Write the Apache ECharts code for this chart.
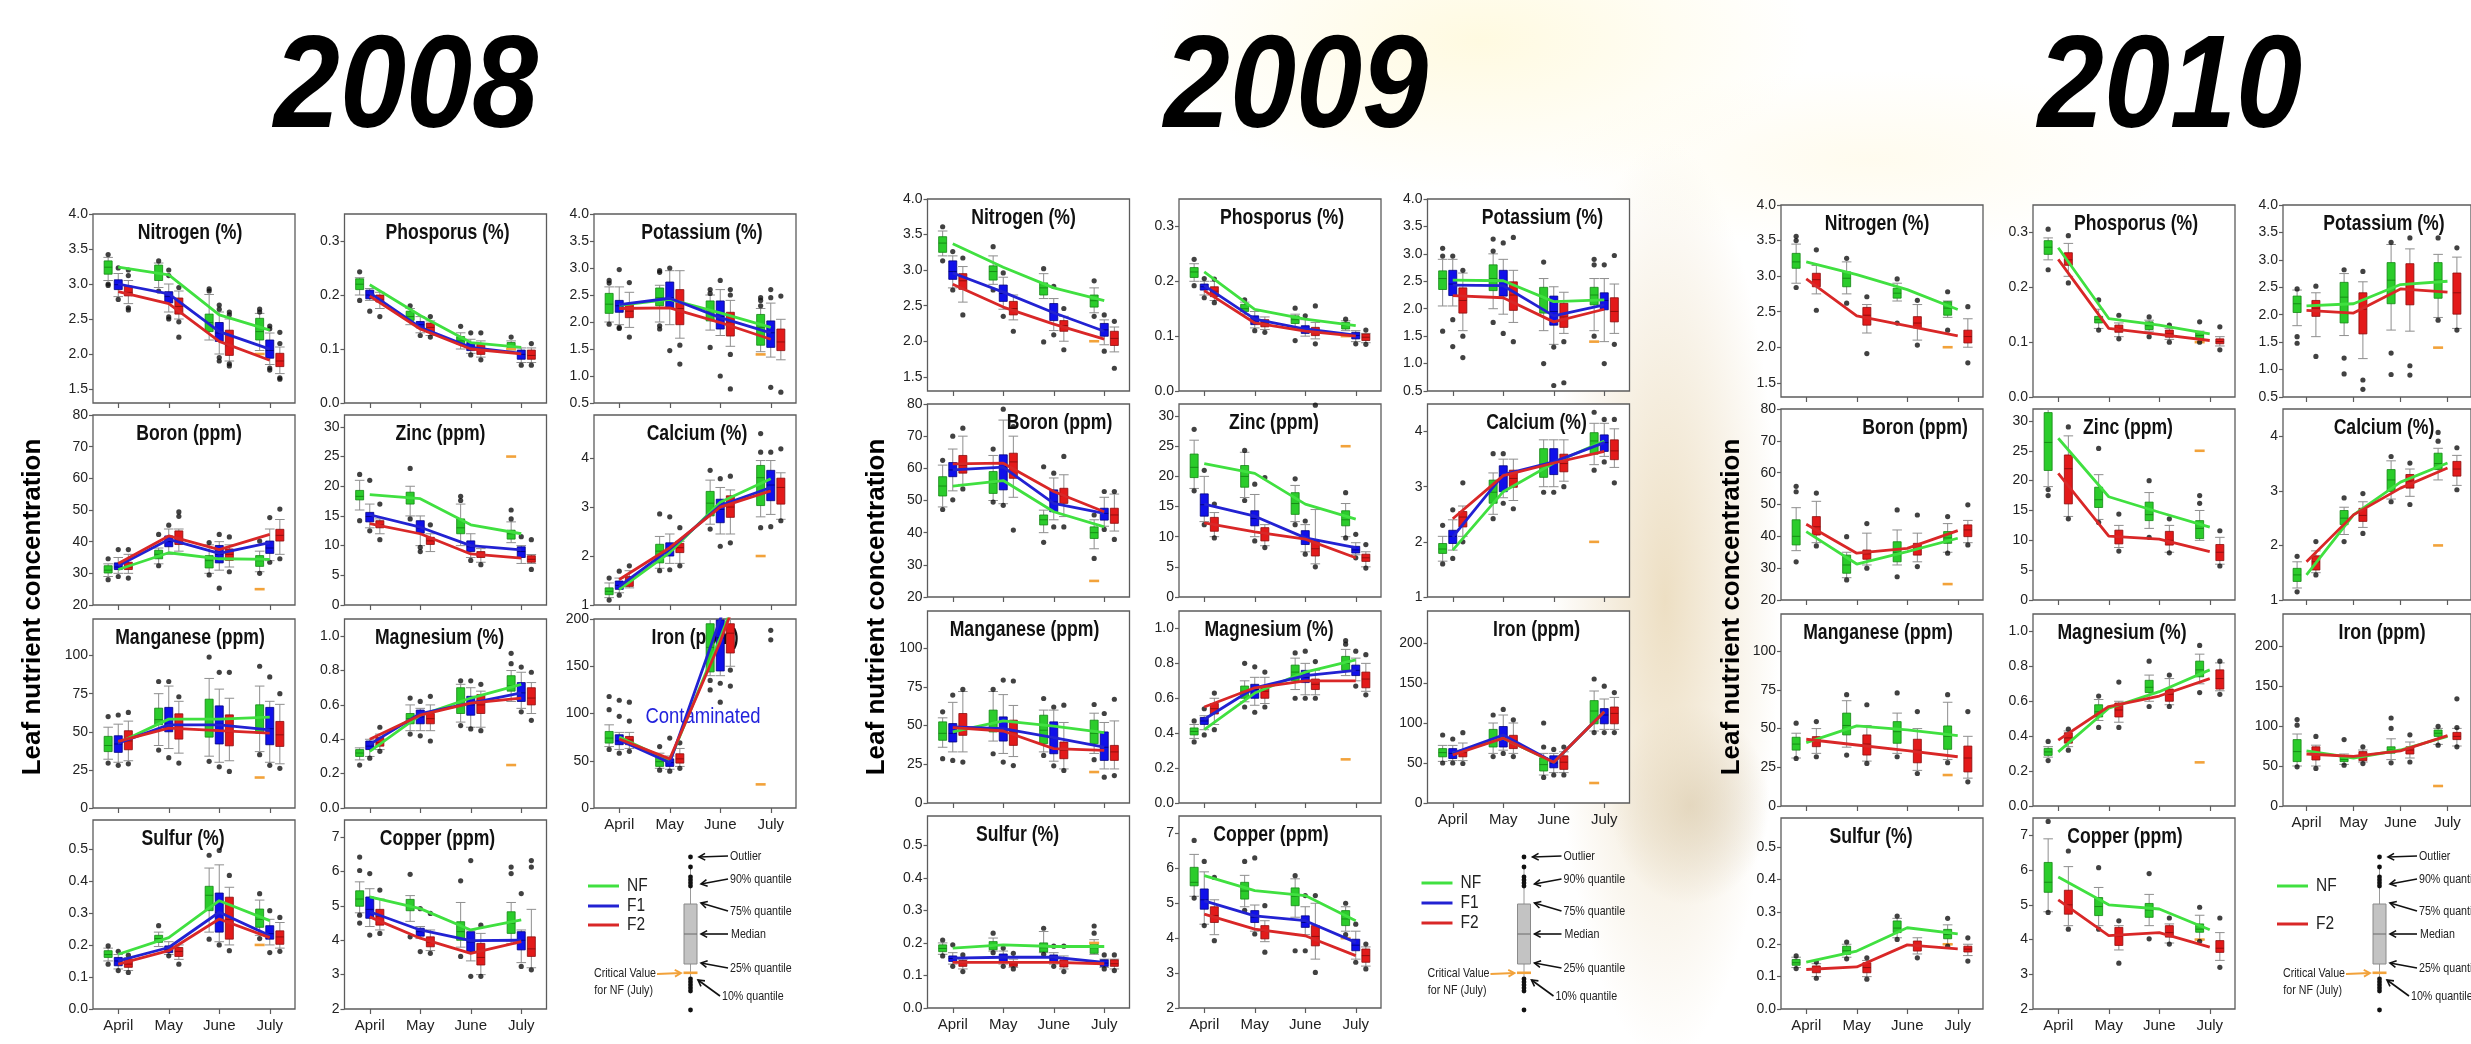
<!DOCTYPE html>
<html>
<head>
<meta charset="utf-8">
<script src="https://cdn.jsdelivr.net/npm/echarts@6/dist/echarts.min.js"></script>
<style>
  html, body { margin: 0; padding: 0; width: 2471px; height: 1044px; overflow: hidden; }
  body {
    background:
      radial-gradient(ellipse 330px 150px at 1480px 40px, rgba(255,246,200,0.55), rgba(255,246,200,0) 100%),
      radial-gradient(ellipse 320px 90px at 1870px 160px, rgba(255,248,222,0.5), rgba(255,248,222,0) 100%),
      radial-gradient(ellipse 115px 460px at 1665px 600px, rgba(236,221,192,0.95), rgba(236,221,192,0) 100%),
      radial-gradient(ellipse 80px 100px at 1690px 805px, rgba(198,180,146,0.6), rgba(198,180,146,0) 100%),
      #ffffff;
  }
  #chart { position: absolute; left: 0; top: 0; width: 2471px; height: 1044px; }
</style>
</head>
<body>
<div id="chart"></div>
<script>
// ---------- labels and axes ----------
const months = ['April', 'May', 'June', 'July'];
const treatmentNames = ['NF', 'F1', 'F2'];
const nutrientTitles = ['Nitrogen (%)', 'Phosporus (%)', 'Potassium (%)', 'Boron (ppm)', 'Zinc (ppm)', 'Calcium (%)',
  'Manganese (ppm)', 'Magnesium (%)', 'Iron (ppm)', 'Sulfur (%)', 'Copper (ppm)'];
const yTicks = [
  [1.5, 2.0, 2.5, 3.0, 3.5, 4.0],
  [0, 0.1, 0.2, 0.3],
  [0.5, 1.0, 1.5, 2.0, 2.5, 3.0, 3.5, 4.0],
  [20, 30, 40, 50, 60, 70, 80],
  [0, 5, 10, 15, 20, 25, 30],
  [1, 2, 3, 4],
  [0, 25, 50, 75, 100],
  [0, 0.2, 0.4, 0.6, 0.8, 1.0],
  [0, 50, 100, 150, 200],
  [0, 0.1, 0.2, 0.3, 0.4, 0.5],
  [2, 3, 4, 5, 6, 7]
];
const yDecimals = [1, 1, 1, 0, 0, 0, 0, 1, 0, 1, 0];
const yRange2008 = [[1.3, 4.0], [0, 0.35], [0.5, 4.0], [20, 80], [0, 32], [1, 4.88], [0, 124], [0, 1.1], [0, 200], [0, 0.59], [2, 7.5]];
const yRange2009 = [[1.3, 4.0], [0, 0.35], [0.5, 4.0], [20, 80], [0, 32], [1, 4.5], [0, 124], [0, 1.1], [0, 240], [0, 0.59], [2, 7.5]];
const yRange2010 = yRange2009;
// critical value for NF in July, one per nutrient
const criticalNF = [2.0, 0.1, 1.4, 25, 25, 2.0, 20, 0.25, 25, 0.2, 4.0];

// ---------- 2008 ----------
// per treatment, per month: [p10, p25, median, p75, p90, ...outliers]
const nitrogen2008 = [
  [[3.05,3.14,3.24,3.33,3.38, 3.42,3.0,2.98],[2.95,3.05,3.15,3.27,3.3, 3.33,2.9],[2.2,2.32,2.45,2.57,2.85, 2.93,2.9],[2.05,2.2,2.32,2.51,2.58, 2.64,2.6]],
  [[2.82,2.92,2.99,3.06,3.15, 3.23,2.78],[2.6,2.73,2.82,2.89,3.0, 3.2,3.12,2.53,2.5],[2.0,2.18,2.3,2.45,2.6, 2.7,2.64,1.95,1.9],[1.85,1.94,2.05,2.2,2.3, 2.4,2.36,1.8,1.77]],
  [[2.72,2.83,2.88,2.97,3.05, 3.2,3.12,2.66,2.63],[2.5,2.57,2.68,2.8,2.9, 2.95,2.46,2.24],[1.9,1.98,2.12,2.34,2.5, 2.6,2.56,1.86,1.83],[1.72,1.82,1.9,2.01,2.1, 2.31,2.15,1.66,1.64]]
];
const nitrogen2008Mean = [[3.24,3.13,2.56,2.34],[3.0,2.86,2.32,2.07],[2.89,2.72,2.18,1.91]];
const phosphorus2008 = [
  [[0.2,0.21,0.22,0.23,0.232, 0.243,0.19],[0.145,0.153,0.16,0.17,0.175, 0.18],[0.1,0.109,0.115,0.123,0.13, 0.142],[0.098,0.1,0.105,0.112,0.115, 0.122]],
  [[0.19,0.193,0.2,0.209,0.212, 0.17],[0.13,0.139,0.145,0.151,0.16, 0.125],[0.092,0.097,0.104,0.112,0.118, 0.13,0.089],[0.075,0.081,0.09,0.098,0.102, 0.07]],
  [[0.175,0.187,0.192,0.2,0.205, 0.16],[0.125,0.131,0.14,0.148,0.152, 0.16,0.122],[0.085,0.09,0.1,0.109,0.115, 0.13,0.08],[0.075,0.081,0.088,0.098,0.102, 0.11,0.07]]
];
const phosphorus2008Mean = [[0.219,0.162,0.112,0.103],[0.204,0.14,0.103,0.092],[0.198,0.137,0.1,0.091]];
const potassium2008 = [
  [[2.0,2.16,2.33,2.53,2.65, 2.77,2.72,1.96],[2.0,2.3,2.45,2.63,2.68, 2.95,2.92,1.93,1.87],[1.85,2.02,2.2,2.39,2.5, 2.6,2.53,1.53],[1.45,1.57,1.9,2.14,2.25, 2.45,2.4,2.3]],
  [[1.95,2.18,2.3,2.4,2.65, 2.97,1.9,1.88],[1.95,2.26,2.45,2.74,2.95, 3.0,1.47],[1.75,1.87,2.1,2.39,2.6, 2.77,1.0],[1.35,1.53,1.8,2.02,2.35, 2.6,2.45,0.79]],
  [[1.9,2.08,2.2,2.33,2.55, 2.73,1.72],[1.7,1.95,2.25,2.6,2.95, 1.57,1.22],[1.55,1.74,2.0,2.18,2.4, 2.6,2.5,1.4,0.76],[1.3,1.47,1.63,1.87,2.05, 2.48,0.7]]
];
const potassium2008Mean = [[2.31,2.42,2.17,1.9],[2.32,2.44,2.08,1.8],[2.25,2.26,1.99,1.68]];
const boron2008 = [
  [[29,30.1,31,32.4,33, 34.6,28],[33,34.6,36,37.3,38, 42.3,32.4],[30,31.7,34,35.6,39, 39.7,29.5],[30.5,32.2,34,35.6,37, 40.2,30]],
  [[30,31.2,32,33.3,35, 37.5,29],[36,38.4,40,41.8,44, 45.2],[31,33.3,36,38.8,40, 42.3,25.3],[34,36.3,38,40.2,44, 47.6,33.5]],
  [[30,31.2,32,33.5,36, 37.5,28.5],[37,39.1,41,43.4,44, 49.4,48],[32,34.1,36,37.7,39, 41.5,30.5],[36,40.2,42,43.9,47, 50.3,34.6]]
];
const boron2008Mean = [[31.2,36.5,34.6,34.4],[32.4,40.7,36.3,39.7],[33.1,41.8,37.5,42.3]];
const zinc2008 = [
  [[16,17.7,18.3,19.3,21, 22,14.2],[15,17,18,19,20, 23,14.5],[10,12,13,14.5,17, 18.3,17.6],[10.5,11.1,12,12.6,14, 16,14.5]],
  [[13,14,14.9,15.6,17, 21,12.5],[10,12.1,13,14.2,15, 9.7,9],[8,9,9.8,10.8,12, 7.5],[7,8,9,9.8,10, 11.5]],
  [[12,13,13.5,14.2,14.5, 17,11],[9,10.2,10.8,11.4,12, 13.5],[7.2,8,8.5,9,9.5, 6.8],[7,7.2,7.7,8.3,8.5, 11,6]]
];
const zinc2008Mean = [[18.6,17.9,13.5,12.0],[15.2,13.1,10.0,9.3],[13.7,12.0,8.6,7.9]];
const calcium2008 = [
  [[1.15,1.21,1.28,1.35,1.45, 1.55,1.1],[1.75,1.86,2.1,2.24,2.4, 2.86,1.7],[2.65,2.82,3.08,3.32,3.55, 3.75,2.55],[2.8,3.03,3.6,3.85,3.95, 4.5,4.12,2.58]],
  [[1.25,1.32,1.4,1.49,1.55, 1.69,1.2],[1.85,2.0,2.15,2.27,2.45, 2.8,1.72],[2.45,2.68,2.95,3.16,3.4, 3.58,2.2],[2.85,3.13,3.45,3.75,3.95, 4.12,2.6]],
  [[1.35,1.38,1.5,1.58,1.7, 1.8],[1.85,2.07,2.17,2.26,2.3, 2.58,1.8],[2.45,2.79,3.0,3.23,3.35, 3.63,2.27],[2.75,3.06,3.4,3.59,3.7, 4.19,2.72]]
];
const calcium2008Mean = [[1.32,2.07,3.1,3.58],[1.38,2.14,3.03,3.4],[1.52,2.17,3.0,3.33]];
const manganese2008 = [
  [[32,37,41,47,53, 60,29.5],[41,54.6,58,65.5,75, 83,38],[34,46.5,58,71.4,85, 99,30.6],[37,49.1,59,67.7,80, 93,35]],
  [[30,36.5,42,47.4,55, 61,28],[39,50,55,66,80, 83,33],[30,42,55,67,78, 89,27],[30,41.5,52,66,70, 86,28]],
  [[31,38.2,44,50.7,57, 62.7,29],[36,45.2,52,61.8,70, 73,29.5],[31,40.8,50,61.1,72, 89,24],[29,40.4,48,56.8,68, 75,26]]
];
const manganese2008Mean = [[42.6,58.3,58.3,59.6],[42.6,54.6,54.6,51.3],[43.7,52.4,50.7,49.1]];
const magnesium2008 = [
  [[0.28,0.3,0.32,0.34,0.35, 0.25],[0.45,0.49,0.52,0.55,0.6, 0.64,0.43],[0.5,0.55,0.62,0.7,0.72, 0.74,0.48],[0.62,0.68,0.71,0.77,0.8, 0.9,0.84]],
  [[0.3,0.34,0.36,0.39,0.4, 0.29],[0.45,0.49,0.53,0.57,0.58, 0.62,0.42],[0.47,0.54,0.6,0.65,0.7, 0.74,0.46],[0.58,0.62,0.67,0.73,0.79, 0.82,0.56]],
  [[0.34,0.36,0.38,0.41,0.43, 0.47,0.33],[0.45,0.49,0.52,0.55,0.6, 0.65,0.39],[0.47,0.55,0.6,0.66,0.68, 0.72,0.45],[0.55,0.6,0.64,0.7,0.73, 0.79,0.51]]
];
const magnesium2008Mean = [[0.33,0.54,0.64,0.72],[0.37,0.55,0.61,0.67],[0.4,0.54,0.61,0.64]];
const iron2008 = [
  [[65,68.7,74,81,88, 118,104,62],[42,44,49,55.3,58, 65,40],[140,144,170,195,215, 135,125],[220,260,300,340,380]],
  [[62,67,71,77.5,80, 114,97,58],[41,44,48,52,55, 74,39],[140,145,180,199,215, 132,112],[230,270,310,350,390, 188,178]],
  [[63,67,72,75.7,80, 112,92,60],[44,47.5,52,57.4,63, 69,42],[150,164,185,195,215, 146,129],[225,265,305,345,385]]
];
const iron2008Mean = [[75,50,180,320],[72,48,200,330],[73,52,176,320]];
const sulfur2008 = [
  [[0.15,0.161,0.17,0.182,0.19, 0.197,0.14],[0.195,0.208,0.22,0.23,0.24, 0.26],[0.24,0.307,0.355,0.383,0.44, 0.48,0.218],[0.23,0.255,0.28,0.312,0.34, 0.36,0.22]],
  [[0.125,0.135,0.15,0.161,0.17, 0.18,0.12],[0.17,0.176,0.185,0.197,0.21, 0.166],[0.21,0.24,0.3,0.362,0.45, 0.495,0.2],[0.2,0.218,0.235,0.26,0.28, 0.307,0.176]],
  [[0.12,0.13,0.14,0.156,0.16, 0.168,0.114],[0.155,0.164,0.18,0.192,0.2, 0.14],[0.2,0.218,0.28,0.349,0.38, 0.417,0.182],[0.19,0.202,0.225,0.244,0.27, 0.286,0.18]]
];
const sulfur2008Mean = [[0.171,0.223,0.338,0.276],[0.15,0.192,0.302,0.229],[0.14,0.182,0.281,0.223]];
const copper2008 = [
  [[4.8,4.99,5.2,5.44,5.7, 6.42,6.03,4.73,4.5],[4.55,4.86,5.0,5.19,5.3, 5.92,4.1],[3.8,4.0,4.25,4.54,5.1, 5.73,3.53],[3.9,4.2,4.5,4.83,5.1, 6.13,5.94]],
  [[4.4,4.64,4.9,5.26,5.5, 5.94,4.15],[4.05,4.12,4.25,4.35,4.4, 4.92,3.67],[3.4,3.67,3.95,4.25,4.3, 6.32,2.95],[3.35,3.72,4.0,4.25,4.3, 5.36,3.24]],
  [[4.3,4.44,4.7,4.9,5.2, 5.46,4.2],[3.7,3.81,3.95,4.1,4.3, 4.78,3.62],[3.0,3.28,3.5,3.91,4.2, 4.44,2.95],[3.2,3.53,3.75,4.1,4.9, 6.32,6.13,3.14]]
];
const copper2008Mean = [[5.26,4.92,4.3,4.59],[4.83,4.3,3.99,4.0],[4.68,4.06,3.62,3.96]];

// ---------- 2009 ----------
const nitrogen2009 = [
  [[3.2,3.25,3.38,3.47,3.55, 3.61,3.13],[2.8,2.86,2.98,3.06,3.2, 3.33,2.72],[2.6,2.65,2.75,2.82,2.95, 3.02,1.99],[2.4,2.48,2.57,2.65,2.75, 2.85,2.35]],
  [[2.75,2.87,2.98,3.13,3.2, 3.26,2.72],[2.45,2.56,2.67,2.79,2.9, 2.96,2.35],[2.15,2.29,2.4,2.53,2.6, 2.77,2.09],[1.95,2.07,2.16,2.25,2.3, 2.37,1.86]],
  [[2.55,2.73,2.85,2.95,3.05, 3.17,2.37],[2.3,2.37,2.46,2.56,2.65, 2.14],[2.0,2.14,2.22,2.29,2.35, 2.46,1.88],[1.85,1.94,2.04,2.14,2.2, 2.28,1.62]]
];
const nitrogen2009Mean = [[3.37,3.04,2.75,2.57],[2.96,2.69,2.4,2.14],[2.8,2.48,2.24,2.03]];
const phosphorus2009 = [
  [[0.2,0.207,0.217,0.225,0.232, 0.24,0.192],[0.14,0.145,0.15,0.158,0.162, 0.166],[0.115,0.123,0.13,0.137,0.14, 0.151,0.092],[0.11,0.113,0.12,0.125,0.128, 0.131]],
  [[0.175,0.184,0.19,0.195,0.2, 0.17,0.205],[0.115,0.121,0.128,0.137,0.145, 0.11],[0.1,0.105,0.112,0.119,0.13, 0.137],[0.09,0.095,0.101,0.107,0.11, 0.086]],
  [[0.165,0.172,0.182,0.19,0.2, 0.204,0.161],[0.112,0.117,0.124,0.13,0.135, 0.107],[0.095,0.101,0.108,0.116,0.125, 0.155,0.086],[0.088,0.092,0.098,0.104,0.105, 0.111,0.085]]
];
const phosphorus2009Mean = [[0.217,0.149,0.131,0.119],[0.192,0.131,0.113,0.102],[0.183,0.124,0.109,0.1]];
const potassium2009 = [
  [[2.05,2.35,2.55,2.69,2.9, 3.1,2.96,1.59],[2.0,2.33,2.55,2.8,3.0, 3.27,3.05,1.75],[1.6,1.92,2.2,2.39,2.55, 2.85,1.0],[1.6,2.07,2.25,2.39,2.55, 2.9,2.8,1.5]],
  [[2.05,2.24,2.45,2.7,2.9, 2.96,1.8,1.31],[1.9,2.23,2.5,2.7,2.9, 3.2,1.55],[1.35,1.7,1.95,2.23,2.4, 1.3,0.6],[1.4,1.98,2.15,2.29,2.55, 2.8,1.0]],
  [[1.6,1.92,2.15,2.38,2.65, 2.7,1.5,1.11],[1.75,1.97,2.25,2.49,2.7, 3.3,1.4],[1.55,1.66,1.85,2.1,2.3, 1.4,0.65],[1.55,1.76,1.95,2.2,2.45, 2.97,1.35]]
];
const potassium2009Mean = [[2.52,2.51,2.13,2.16],[2.43,2.42,1.87,2.07],[2.24,2.2,1.76,1.99]];
const boron2009 = [
  [[48,51.4,54.5,57.4,61, 62.5,47.2],[50,52.2,55.5,59,64, 66,49.5],[40,42.4,44,45.5,47, 60.5,37],[35,38.2,40,41.8,44, 45.5,32]],
  [[53,57.4,59.5,61.8,66, 70,50.2],[49,53.3,60.5,64.2,75, 78.4,48.5],[44,46.5,49.5,53.3,57, 58.5,41.8],[42,43.9,46,47.6,51, 52.8,41]],
  [[55,58.5,61,64,70, 72.5,53.6],[51,56.9,62,64.7,70, 73,40.8],[45,49.1,51.5,53.8,58, 63.7,41.8],[40.5,42.9,45.5,47.6,52, 52.8,37.9]]
];
const boron2009Mean = [[54.5,56.2,46.5,41.8],[59.5,60.4,49.1,46],[61.4,61.6,52.8,46.5]];
const zinc2009 = [
  [[18,19.8,21.5,23.7,26, 27.8,17.6],[16.5,18.2,20,21.8,24, 24.3,16],[12.5,13.7,15.5,17.3,18.5, 19.6,12],[10,11.8,12.8,14.3,15.5, 17.3,9.8]],
  [[12.5,13.4,15.3,17.1,20, 21,12],[10,11.8,13,14.3,17, 18.7,9.3],[7.5,8.7,9.8,11,12, 12.6,7.1],[7,7.3,7.8,8.4,9, 10.4,6.5]],
  [[10,10.9,12,13.2,14, 15.4,9.8],[8.5,9.3,10.5,11.5,12, 19.8,8.2],[5.5,6.8,8,9.3,14.5, 31.8,5.0],[5,5.9,6.5,7.1,7.5, 8.7,4.8]]
];
const zinc2009Mean = [[22.1,20.5,15.4,12.9],[15.4,13.4,9.8,8.2],[12.3,10.8,9.6,6.5]];
const calcium2009 = [
  [[1.65,1.79,1.87,1.97,2.1, 2.3,1.6],[2.5,2.7,2.9,3.12,3.25, 3.6,2.42],[3.0,3.17,3.4,3.69,3.85, 2.9],[3.4,3.59,3.83,3.98,4.15, 4.35,3.3]],
  [[1.85,1.97,2.1,2.21,2.4, 2.58,1.7],[2.8,2.91,3.2,3.38,3.5, 3.6,2.7],[3.0,3.22,3.45,3.69,3.85, 2.9],[3.55,3.64,3.8,3.94,4.15, 4.22,3.45]],
  [[2.1,2.27,2.45,2.55,2.65, 3.07,2.0],[2.75,2.99,3.15,3.3,3.5, 2.6],[3.1,3.27,3.42,3.59,3.85, 3.0],[3.35,3.49,3.65,3.85,4.05, 4.22,3.07]]
];
const calcium2009Mean = [[1.85,2.91,3.43,3.83],[2.09,3.22,3.45,3.8],[2.42,3.2,3.43,3.64]];
const manganese2009 = [
  [[36,40.5,45,52.4,55, 58.9,28.6],[40,45.9,52,60,72, 73.4,31.8],[33,38.3,47,56.7,60, 67.5,30.7],[32,38.3,45,53.5,58, 63.6,28]],
  [[33,39.4,45,51.3,65, 69.7,27.5],[32,40,48,55.6,70, 79.4,26.4],[27,31.8,42,52.4,60, 62,24],[22,27.5,36,45.9,52, 57.8,16.7]],
  [[33,43.7,49,57.8,72, 73.4,26.4],[30,37.2,46,53.5,63, 78.8,24.2],[22,28.6,34,39.4,52, 63.2,21],[22,27.5,33,37.2,53, 67,17.7]]
];
const manganese2009Mean = [[45.9,53,49.6,45.5],[49.1,48,42.2,36.1],[48.7,46.5,35.1,34]];
const magnesium2009 = [
  [[0.37,0.39,0.41,0.43,0.45, 0.47,0.35],[0.58,0.6,0.64,0.67,0.7, 0.8,0.55],[0.65,0.7,0.75,0.79,0.83, 0.86,0.6],[0.73,0.76,0.8,0.84,0.88, 0.93,0.91]],
  [[0.42,0.45,0.47,0.49,0.5, 0.54,0.39],[0.56,0.6,0.65,0.68,0.72, 0.78,0.52],[0.62,0.69,0.72,0.76,0.8, 0.87,0.6],[0.7,0.73,0.76,0.79,0.83, 0.87,0.67]],
  [[0.45,0.51,0.54,0.57,0.6, 0.63,0.42],[0.57,0.6,0.64,0.67,0.72, 0.75,0.55],[0.62,0.65,0.68,0.71,0.76, 0.81,0.6],[0.64,0.66,0.71,0.75,0.8, 0.85,0.62]]
];
const magnesium2009Mean = [[0.42,0.63,0.75,0.82],[0.48,0.66,0.73,0.76],[0.55,0.66,0.7,0.7]];
const iron2009 = [
  [[52,57.7,63,68,72, 85,50],[62,70,80,92,100, 110,58],[35,40,48,56.6,62, 100,70,32],[90,99,115,128,140, 155,88]],
  [[53,55.6,62,68,72, 80,50],[66,70,82,95.6,110, 117,62],[38,44,50,59,62, 67,35],[92,99,110,118,130, 146,88]],
  [[53,57.7,63,66,75, 87.9,49.4],[62,68,78,84.6,100, 104,58],[38,42,51,59,64, 70,35],[92,99,112,120,132, 138,88]]
];
const iron2009Mean = [[62,81,51,114],[62,85,51,114],[60,81,51,114]];
const sulfur2009 = [
  [[0.165,0.173,0.183,0.194,0.2, 0.209,0.16],[0.175,0.179,0.19,0.204,0.215, 0.23,0.17],[0.17,0.172,0.185,0.2,0.235, 0.245,0.165],[0.165,0.168,0.185,0.2,0.21, 0.252,0.23]],
  [[0.135,0.143,0.152,0.16,0.17, 0.194,0.128],[0.135,0.143,0.155,0.166,0.175, 0.184,0.128],[0.135,0.143,0.153,0.163,0.17, 0.19,0.128],[0.125,0.128,0.138,0.148,0.15, 0.163,0.12]],
  [[0.12,0.128,0.138,0.146,0.15, 0.163,0.112],[0.125,0.128,0.136,0.143,0.15, 0.168,0.12],[0.12,0.126,0.137,0.148,0.16, 0.19,0.112],[0.12,0.128,0.136,0.148,0.15, 0.163,0.115]]
];
const sulfur2009Mean = [[0.184,0.194,0.189,0.189],[0.153,0.156,0.156,0.14],[0.14,0.14,0.14,0.136]];
const copper2009 = [
  [[5.2,5.5,5.6,6.03,6.4, 6.8,5.15],[4.9,5.12,5.35,5.6,5.8, 6.2,4.8],[4.6,4.93,5.2,5.44,5.7, 5.79,3.64],[4.2,4.36,4.55,4.79,4.9, 5.0,4.1]],
  [[4.4,4.83,5.1,5.41,5.9, 6.2,4.36],[4.2,4.45,4.6,4.79,4.95, 6.3,4.12],[4.1,4.31,4.45,4.64,4.9, 5.22,3.64],[3.4,3.64,3.8,3.97,4.2, 4.4,3.31]],
  [[4.1,4.45,4.65,4.9,5.1, 5.74,3.93],[3.9,3.98,4.2,4.36,4.5, 4.93,3.6],[3.4,3.78,4.05,4.36,5.0, 5.22,3.02],[3.2,3.31,3.5,3.69,3.75, 3.83,3.12]]
];
const copper2009Mean = [[5.79,5.36,5.22,4.5],[5.07,4.64,4.5,3.88],[4.69,4.26,4.07,3.5]];

// ---------- 2010 (NF and F2 only) ----------
const nitrogen2010 = [
  [[2.9,3.11,3.2,3.32,3.45, 3.56,3.5,2.84],[2.75,2.85,2.97,3.06,3.2, 3.25,2.62],[2.65,2.69,2.76,2.83,2.9, 2.96,2.34],[2.42,2.45,2.55,2.64,2.65, 2.78,2.24]],
  [[2.75,2.85,2.95,3.04,3.15, 3.37,2.52],[2.2,2.31,2.45,2.56,2.6, 2.71,1.91],[2.1,2.27,2.34,2.43,2.6, 2.66,2.03],[2.0,2.06,2.15,2.24,2.4, 2.57,1.78]]
];
const nitrogen2010Mean = [[3.2,3.02,2.81,2.53],[2.96,2.44,2.3,2.16]];
const phosphorus2010 = [
  [[0.25,0.26,0.273,0.285,0.29, 0.306,0.232],[0.125,0.135,0.141,0.147,0.16, 0.177,0.122],[0.12,0.123,0.13,0.137,0.14, 0.146,0.11],[0.105,0.106,0.112,0.118,0.12, 0.137,0.1]],
  [[0.22,0.24,0.25,0.263,0.28, 0.294,0.208],[0.11,0.118,0.125,0.131,0.135, 0.149,0.106],[0.105,0.109,0.115,0.122,0.125, 0.131,0.1],[0.093,0.097,0.101,0.106,0.11, 0.128,0.086]]
];
const phosphorus2010Mean = [[0.272,0.143,0.131,0.115],[0.251,0.125,0.114,0.103]];
const potassium2010 = [
  [[1.8,2.04,2.2,2.34,2.45, 2.47,1.6,1.48],[1.62,1.85,2.32,2.59,2.75, 2.82,1.21,0.92],[1.72,2.2,2.63,2.95,3.28, 3.32,1.3,0.91],[1.95,2.3,2.63,2.95,3.1, 3.4,1.9]],
  [[1.6,1.97,2.12,2.26,2.4, 2.52,1.24],[1.2,1.65,2.1,2.4,2.6, 2.79,0.81,0.64],[1.7,2.18,2.55,2.93,3.2, 3.4,1.07,0.9],[1.75,2.01,2.4,2.76,3.05, 3.22,1.72]]
];
const potassium2010Mean = [[2.16,2.2,2.55,2.61],[2.08,2.03,2.47,2.41]];
const boron2010 = [
  [[35.5,37.3,40,45.2,49, 55.7,54,32],[27,28.4,31,34.1,35, 39.9,26.3],[31,32,35,38.3,42, 48.3,27.3],[35,37.8,39.5,41.5,44, 46.2,34.7]],
  [[38,40.4,43,46.2,51, 53.6,37],[31,32.8,34.5,35.7,41, 44,30],[32,34.1,36,37.8,41, 46.7,30.5],[38,39.9,42,43.6,45, 49.9,37.3]]
];
const boron2010Mean = [[41.5,31.3,35.2,39.4],[43.8,34.7,36.2,41.8]];
const zinc2010 = [
  [[19,21.7,26.4,31.4,32, 18.5,17.5],[13.5,15.5,16.8,18.9,21, 25.4,13],[12,13.3,14.3,16.4,18, 20,10.5],[10,10.3,12,13.3,15, 17.5,16.2]],
  [[14,16.1,22,24.3,27.5, 29,13.6],[8.8,9.4,10.5,11.7,12.5, 14.4,8.2],[8,9.2,10,11.5,12.5, 13.6,7.9],[6,6.6,8,9.3,10.5, 11.6,5.7]]
];
const zinc2010Mean = [[27.1,17.3,14.7,12.2],[21.2,10.7,10.2,8.1]];
const calcium2010 = [
  [[1.22,1.34,1.46,1.58,1.7, 1.8,1.15],[2.2,2.38,2.5,2.64,2.7, 2.87,2.07],[2.85,2.99,3.2,3.39,3.55, 3.63,2.8],[3.2,3.39,3.5,3.69,3.78, 4.07,3.91]],
  [[1.5,1.55,1.7,1.81,1.9, 2.07,1.46],[2.33,2.44,2.55,2.68,2.8, 2.95,2.22],[2.9,3.05,3.18,3.3,3.4, 3.51,2.75],[3.1,3.27,3.4,3.54,3.65, 3.79,3.02]]
];
const calcium2010Mean = [[1.46,2.56,3.16,3.51],[1.7,2.56,3.05,3.42]];
const manganese2010 = [
  [[31,36.1,40,44.4,47, 53.5,30.7],[38,45.9,52,60,68, 71.9,32.9],[34,40.5,48,54.5,60, 73,31.8],[30,36.6,45,51.7,67, 71.9,28]],
  [[34,38.3,42,44.8,50, 54.5,31.8],[29,32.9,40,45.9,52, 65.4,27.5],[23,27.9,36,43.1,50, 61,21],[18,22,31,38.7,45, 61,15.6]]
];
const manganese2010Mean = [[40.9,51.7,49.1,45.5],[43.1,39.4,35.7,31.8]];
const magnesium2010 = [
  [[0.28,0.29,0.31,0.33,0.34, 0.37,0.26],[0.49,0.51,0.54,0.58,0.61, 0.63,0.45],[0.6,0.65,0.68,0.72,0.75, 0.83,0.57],[0.7,0.74,0.78,0.83,0.87, 0.92,0.65]],
  [[0.34,0.36,0.39,0.42,0.43, 0.44,0.32],[0.48,0.51,0.55,0.59,0.6, 0.71,0.45],[0.58,0.6,0.64,0.67,0.73, 0.75,0.57],[0.66,0.67,0.73,0.78,0.82, 0.83,0.64]]
];
const magnesium2010Mean = [[0.31,0.56,0.655,0.78],[0.377,0.57,0.63,0.73]];
const iron2010 = [
  [[50,55.5,68,83,90, 108,101,49],[52,55.5,58,62,65, 83,51],[58,66,70,74,84, 110,97,54],[77,87,91,95,97, 99.6,76]],
  [[50,57.5,66,74,76, 87,47],[55,56.7,62,68,70, 74,53],[60,65,70,74,80, 89,55],[75,83,87,92,97, 134,98,74]]
];
const iron2010Mean = [[69,60,70,87],[65,62,69,88]];
const sulfur2010 = [
  [[0.128,0.135,0.143,0.153,0.16, 0.164,0.125],[0.16,0.169,0.18,0.194,0.2, 0.207,0.155],[0.22,0.236,0.25,0.272,0.28, 0.287,0.215],[0.2,0.217,0.23,0.246,0.26, 0.28,0.194]],
  [[0.1,0.112,0.122,0.133,0.14, 0.145,0.095],[0.1,0.112,0.128,0.143,0.15, 0.158,0.092],[0.17,0.179,0.195,0.21,0.22, 0.158],[0.165,0.176,0.185,0.194,0.2, 0.22,0.148]]
];
const sulfur2010Mean = [[0.145,0.179,0.251,0.232],[0.122,0.13,0.198,0.186]];
const copper2010 = [
  [[4.8,5.36,5.65,6.22,6.9, 7.4,4.78],[4.4,4.69,4.95,5.21,5.5, 6.07,4.3],[4.4,4.64,4.85,5.04,5.3, 5.9,4.02],[4.0,4.21,4.3,4.45,4.7, 4.93,3.95]],
  [[4.4,4.73,5.0,5.42,6.1, 6.55,4.3],[3.7,3.83,4.1,4.35,4.4, 4.54,3.32],[3.9,4.07,4.2,4.4,4.45, 4.62,3.87],[3.4,3.63,3.75,3.97,4.2, 4.62,3.2]]
];
const copper2010Mean = [[5.8,5.0,4.88,4.28],[5.14,4.11,4.2,3.78]];

// ---------- styling ----------
const SANS = "'Liberation Sans',Arial,'DejaVu Sans',sans-serif";
const NARROW_SCALE = 0.82;  // condensed look for the small captions
const FRAME = '#5c5c5c';
const PANEL_W = 202;
const TREATMENT_STYLE = [
  { box: '#2bcc2b', edge: '#138613', line: '#40e040' },
  { box: '#1010ea', edge: '#000080', line: '#2222d2' },
  { box: '#e31a1a', edge: '#8a0c0c', line: '#d92727' }
];
const CRITICAL_COLOR = '#f2a23a';

const YEARS = [
  {
    name: '2008', treatments: [0, 1, 2],
    boxes: [nitrogen2008, phosphorus2008, potassium2008, boron2008, zinc2008, calcium2008, manganese2008, magnesium2008, iron2008, sulfur2008, copper2008],
    means: [nitrogen2008Mean, phosphorus2008Mean, potassium2008Mean, boron2008Mean, zinc2008Mean, calcium2008Mean, manganese2008Mean, magnesium2008Mean, iron2008Mean, sulfur2008Mean, copper2008Mean],
    ranges: yRange2008,
    cols: [93, 344.5, 594], rows: [214, 415, 619, 820], heights: [189, 190, 189, 189],
    titleX: 406, sideX: 33, legendY: [886, 906, 925],
    titleShift: [-4, 2, 7, -5, -5, 2, -4, -6, 0, -11, -8]
  },
  {
    name: '2009', treatments: [0, 1, 2],
    boxes: [nitrogen2009, phosphorus2009, potassium2009, boron2009, zinc2009, calcium2009, manganese2009, magnesium2009, iron2009, sulfur2009, copper2009],
    means: [nitrogen2009Mean, phosphorus2009Mean, potassium2009Mean, boron2009Mean, zinc2009Mean, calcium2009Mean, manganese2009Mean, magnesium2009Mean, iron2009Mean, sulfur2009Mean, copper2009Mean],
    ranges: yRange2009,
    cols: [927.5, 1179, 1427.5], rows: [199, 404, 611, 816], heights: [192, 193, 192, 192],
    titleX: 1296, sideX: 877, legendY: [883, 903, 923],
    titleShift: [-5, 2, 14, 31, -6, 8, -4, -11, 8, -11, -9]
  },
  {
    name: '2010', treatments: [0, 2],
    boxes: [nitrogen2010, phosphorus2010, potassium2010, boron2010, zinc2010, calcium2010, manganese2010, magnesium2010, iron2010, sulfur2010, copper2010],
    means: [nitrogen2010Mean, phosphorus2010Mean, potassium2010Mean, boron2010Mean, zinc2010Mean, calcium2010Mean, manganese2010Mean, magnesium2010Mean, iron2010Mean, sulfur2010Mean, copper2010Mean],
    ranges: yRange2010,
    cols: [1781, 2033, 2283], rows: [205, 409, 614, 818], heights: [192, 191, 192, 191],
    titleX: 2170, sideX: 1732, legendY: [886, null, 924],
    titleShift: [-5, 2, 0, 33, -6, 0, -4, -12, -2, -11, -9]
  }
];

// ---------- renderers ----------
function boxItem(params, api) {
  const x = api.value(0);
  const lo = api.coord([x, api.value(1)]);
  const q1 = api.coord([x, api.value(2)]);
  const md = api.coord([x, api.value(3)]);
  const q3 = api.coord([x, api.value(4)]);
  const hi = api.coord([x, api.value(5)]);
  const st = TREATMENT_STYLE[api.value(6)];
  const cx = md[0], hw = 4, cap = 4.8;
  const grey = { stroke: '#8e8e8e', lineWidth: 1 };
  return {
    type: 'group',
    children: [
      { type: 'line', shape: { x1: cx, y1: lo[1], x2: cx, y2: hi[1] }, style: grey },
      { type: 'line', shape: { x1: cx - cap, y1: lo[1], x2: cx + cap, y2: lo[1] }, style: grey },
      { type: 'line', shape: { x1: cx - cap, y1: hi[1], x2: cx + cap, y2: hi[1] }, style: grey },
      { type: 'rect', shape: { x: cx - hw, y: q3[1], width: hw * 2, height: q1[1] - q3[1] }, style: { fill: st.box, stroke: st.edge, lineWidth: 0.8 } },
      { type: 'line', shape: { x1: cx - hw, y1: md[1], x2: cx + hw, y2: md[1] }, style: { stroke: st.edge, lineWidth: 0.9 } }
    ]
  };
}
function criticalItem(params, api) {
  const p = api.coord([api.value(0), api.value(1)]);
  return { type: 'rect', shape: { x: p[0] - 5, y: p[1] - 1.3, width: 10, height: 2.6 }, style: { fill: CRITICAL_COLOR } };
}

function textEl(x, y, text, font, fill, align, extra) {
  return Object.assign({
    type: 'text', x, y, z: 1, silent: true,
    style: { text, font, fill, align, textAlign: align, verticalAlign: 'middle', textVerticalAlign: 'middle' }
  }, extra || {});
}
function narrowText(x, y, text, font, fill, align) {
  return textEl(x, y, text, font, fill, align, { scaleX: NARROW_SCALE });
}
function lineEl(x1, y1, x2, y2, stroke, width, z) {
  return { type: 'line', z: z || 1, silent: true, shape: { x1, y1, x2, y2 }, style: { stroke, lineWidth: width } };
}
function arrowEls(x1, y1, x2, y2, color, width) {
  const a = Math.atan2(y2 - y1, x2 - x1), L = 7, s = 0.5;
  return [
    lineEl(x1, y1, x2, y2, color, width),
    { type: 'polyline', z: 1, silent: true,
      shape: { points: [[x2 - L * Math.cos(a - s), y2 - L * Math.sin(a - s)], [x2, y2], [x2 - L * Math.cos(a + s), y2 - L * Math.sin(a + s)]] },
      style: { stroke: color, lineWidth: width, fill: null } }
  ];
}

// box-plot reading key drawn beside the legend
function keyEls(colX) {
  const bx = colX + 90, cx = bx + 6.5;
  const els = [];
  els.push(lineEl(cx, 868, cx, 992, '#9a9a9a', 1));
  [857, 867, 877, 880, 883, 886, 979, 982, 985, 988, 991, 1010].forEach(y => {
    els.push({ type: 'circle', z: 2, silent: true, shape: { cx, cy: y, r: 2.4 }, style: { fill: '#111' } });
  });
  els.push({ type: 'rect', z: 2, silent: true, shape: { x: bx, y: 904, width: 13, height: 60 }, style: { fill: '#c3c3c3', stroke: '#8a8a8a', lineWidth: 1 } });
  els.push(lineEl(bx, 934, bx + 13, 934, '#6a6a6a', 1, 3));
  els.push({ type: 'rect', z: 3, silent: true, shape: { x: bx - 0.5, y: 971.5, width: 14, height: 2.6 }, style: { fill: CRITICAL_COLOR } });
  const f = `13px ${SANS}`;
  [
    [856, 857, 'Outlier', 44, 15, 46],
    [879, 884, '90% quantile', 44, 17, 46],
    [911, 903, '75% quantile', 44, 17, 46],
    [934, 934, 'Median', 44, 17, 47],
    [968, 963, '25% quantile', 44, 17, 46],
    [996, 980, '10% quantile', 36, 14, 38]
  ].forEach(([y1, y2, label, fromX, toX, textX]) => {
    els.push(...arrowEls(bx + fromX, y1, bx + toX, y2, '#111', 1.6));
    els.push(narrowText(bx + textX, y1, label, f, '#222', 'left'));
  });
  els.push(...arrowEls(bx - 27, 974, bx - 3, 973, CRITICAL_COLOR, 1.8));
  els.push(narrowText(bx - 28, 973, 'Critical Value', f, '#222', 'right'));
  els.push(narrowText(bx - 31, 990, 'for NF (July)', f, '#222', 'right'));
  return els;
}

// ---------- build option ----------
const grids = [], xAxes = [], yAxes = [], series = [], graphics = [];

YEARS.forEach(Y => {
  const offsets = Y.treatments.length === 3 ? [-0.2, 0, 0.2] : [-0.2, 0.2];

  graphics.push(textEl(Y.titleX, 91, Y.name, `italic bold 132px ${SANS}`, '#000', 'center', { scaleX: 0.9 }));
  graphics.push(textEl(Y.sideX, 607, 'Leaf nutrient concentration', `bold 26px ${SANS}`, '#000', 'center', { rotation: Math.PI / 2 }));

  Y.boxes.forEach((panel, k) => {
    const g = grids.length;
    const row = Math.floor(k / 3), col = k % 3;
    const left = Y.cols[col], top = Y.rows[row], h = Y.heights[row];
    const showMonths = row === 3 || k === 8;

    grids.push({ left, top, width: PANEL_W, height: h, show: true, backgroundColor: '#ffffff', borderColor: FRAME, borderWidth: 1.3, containLabel: false });
    xAxes.push({
      gridIndex: g, type: 'value', min: 0.5, max: 4.5,
      axisLine: { show: false }, splitLine: { show: false },
      axisTick: { show: true, customValues: [1, 2, 3, 4], length: 5, lineStyle: { color: FRAME, width: 1.2 } },
      axisLabel: { show: showMonths, customValues: [1, 2, 3, 4], formatter: v => months[Math.round(v) - 1],
        fontFamily: SANS, fontSize: 15, color: '#222', margin: 9 }
    });
    yAxes.push({
      gridIndex: g, type: 'value', min: Y.ranges[k][0], max: Y.ranges[k][1],
      axisLine: { show: false }, splitLine: { show: false },
      axisTick: { show: true, customValues: yTicks[k], length: 4, lineStyle: { color: FRAME, width: 1.2 } },
      axisLabel: { customValues: yTicks[k], formatter: v => v.toFixed(yDecimals[k]),
        fontFamily: SANS, fontSize: 14, color: '#222', margin: 5 }
    });

    const boxRows = [], dots = [];
    panel.forEach((perMonth, si) => {
      const t = Y.treatments[si];
      perMonth.forEach((b, m) => {
        const x = m + 1 + offsets[si];
        boxRows.push([x, b[0], b[1], b[2], b[3], b[4], t]);
        b.slice(5).forEach(v => dots.push([x, v]));
      });
    });

    series.push({ type: 'custom', xAxisIndex: g, yAxisIndex: g, renderItem: boxItem, data: boxRows, clip: true, z: 3, silent: true });
    series.push({ type: 'scatter', xAxisIndex: g, yAxisIndex: g, data: dots, symbolSize: 5.2, itemStyle: { color: '#111' }, clip: true, z: 4, silent: true });
    Y.means[k].forEach((vals, si) => {
      series.push({
        type: 'line', xAxisIndex: g, yAxisIndex: g, name: treatmentNames[Y.treatments[si]],
        data: vals.map((v, m) => [m + 1, v]), symbol: 'none', clip: true, z: 5, silent: true,
        lineStyle: { color: TREATMENT_STYLE[Y.treatments[si]].line, width: 2.8 }
      });
    });
    series.push({ type: 'custom', xAxisIndex: g, yAxisIndex: g, renderItem: criticalItem, data: [[4 + offsets[0], criticalNF[k]]], clip: true, z: 4, silent: true });

    graphics.push(textEl(left + PANEL_W / 2 + Y.titleShift[k], top + 18.5, nutrientTitles[k], `bold 22px ${SANS}`, '#111', 'center', { scaleX: 0.8 }));
  });

  // legend and reading key in the empty bottom-right slot
  const colX = Y.cols[2];
  Y.treatments.forEach(t => {
    const y = Y.legendY[t];
    graphics.push(lineEl(colX - 6, y, colX + 25, y, TREATMENT_STYLE[t].line, 3));
    graphics.push(textEl(colX + 33, y, treatmentNames[t], `18px ${SANS}`, '#222', 'left', { scaleX: 0.86 }));
  });
  graphics.push(...keyEls(colX));
});

// the 2008 iron samples from June onward
graphics.push(textEl(YEARS[0].cols[2] + 109, YEARS[0].rows[2] + 98, 'Contaminated', `22px ${SANS}`, '#2323dc', 'center', { scaleX: 0.84 }));

const chart = echarts.init(document.getElementById('chart'), null, { renderer: 'canvas' });
chart.setOption({
  animation: false,
  backgroundColor: 'transparent',
  grid: grids,
  xAxis: xAxes,
  yAxis: yAxes,
  series,
  graphic: { elements: graphics }
});
</script>
</body>
</html>
